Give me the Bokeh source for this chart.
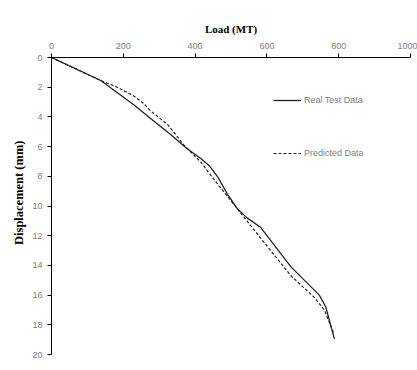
from bokeh.plotting import figure
from bokeh.models import Range1d, LinearAxis, Legend, LegendItem, FixedTicker, Title
from bokeh.embed import file_html
from bokeh.resources import INLINE

real_load = [0, 137, 230, 276, 330, 378, 416, 440, 462, 490, 518, 545, 583, 667, 746, 764, 788]
real_disp = [0, 1.55, 3.2, 4.1, 5.15, 6.15, 6.8, 7.3, 8.0, 9.2, 10.2, 10.8, 11.45, 14.1, 16.0, 16.8, 18.95]

pred_load = [0, 137, 183, 230, 257, 276, 323, 369, 416, 462, 518, 574, 667, 732, 760, 785]
pred_disp = [0, 1.55, 2.0, 2.6, 3.1, 3.6, 4.5, 5.9, 7.05, 8.5, 10.2, 11.9, 14.7, 16.15, 17.0, 18.5]

x_ticks = [0, 200, 400, 600, 800, 1000]
y_ticks = [0, 2, 4, 6, 8, 10, 12, 14, 16, 18, 20]

p = figure(width=417, height=370, output_backend="svg", toolbar_location=None,
           x_range=Range1d(0, 1000), y_range=Range1d(20, 0),
           x_axis_location=None, y_axis_location=None,
           min_border_left=51, min_border_right=7, min_border_top=57, min_border_bottom=16)
p.outline_line_color = None
p.grid.visible = False
p.background_fill_color = "white"
p.border_fill_color = "white"

tick_font = "Liberation Sans Narrow, Arial Narrow, sans-serif"

xa = LinearAxis(axis_label="Load (MT)", ticker=FixedTicker(ticks=x_ticks))
ya = LinearAxis(ticker=FixedTicker(ticks=y_ticks))
for ax in (xa, ya):
    ax.axis_line_color = "black"
    ax.axis_line_width = 1
    ax.major_tick_line_color = "black"
    ax.major_tick_in = 0
    ax.major_tick_out = 4
    ax.minor_tick_line_color = None
    ax.major_label_text_font = tick_font
    ax.major_label_text_font_size = "9px"
    ax.major_label_text_color = "#808080"
    ax.axis_label_text_font = "Liberation Serif"
    ax.axis_label_text_font_style = "bold"
    ax.axis_label_text_font_size = "11px"
    ax.axis_label_text_color = "black"
xa.axis_label_standoff = 5
ya.major_label_standoff = 5
p.add_layout(xa, "above")
p.add_layout(ya, "left")

ytitle = Title(text="Displacement (mm)", align="right", offset=83,
               text_font="Liberation Serif", text_font_style="bold", text_font_size="12.5px",
               text_color="black", standoff=8)
p.add_layout(ytitle, "left")

r1 = p.line(real_load, real_disp, line_color="#222222", line_width=1.3, line_join="round")
r2 = p.line(pred_load, pred_disp, line_color="#222222", line_width=1.2, line_dash="3 2", line_join="round")

legend = Legend(items=[LegendItem(label="Real Test Data", renderers=[r1]),
                       LegendItem(label="Predicted Data", renderers=[r2])],
                location=(222, 196), orientation="vertical",
                padding=0, margin=0, spacing=43,
                glyph_width=28, glyph_height=10, label_height=10,
                label_standoff=3,
                label_text_font=tick_font, label_text_font_size="9px",
                label_text_color="#808080",
                border_line_alpha=0, background_fill_alpha=0)
p.add_layout(legend, "center")

open("out.html", "w").write(file_html(p, INLINE))
